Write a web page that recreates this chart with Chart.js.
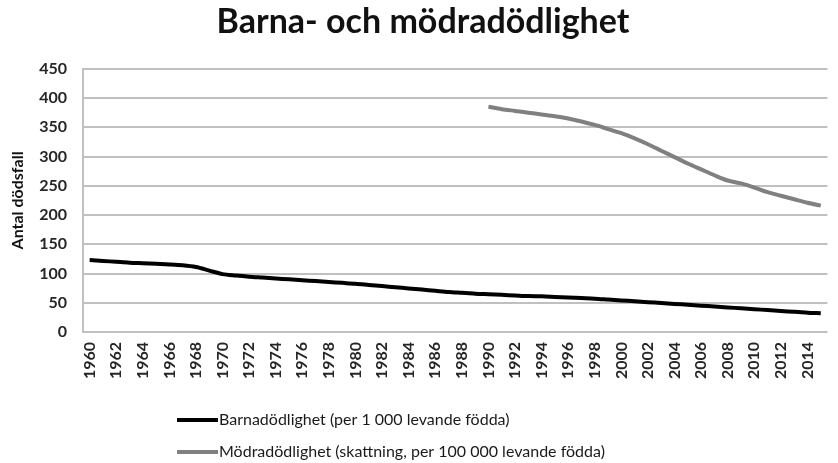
<!DOCTYPE html>
<html>
<head>
<meta charset="utf-8">
<script src="https://cdn.jsdelivr.net/npm/chart.js@4.4.1/dist/chart.umd.min.js"></script>
<style>
  html, body { margin: 0; padding: 0; background: #fff; overflow: hidden; }
  #wrap { position: relative; width: 838px; height: 463px; overflow: hidden; }
</style>
</head>
<body>
<div id="wrap"><canvas id="chart" width="850" height="463"></canvas></div>
<script>
const years = ["1960","1961","1962","1963","1964","1965","1966","1967","1968","1969",
  "1970","1971","1972","1973","1974","1975","1976","1977","1978","1979",
  "1980","1981","1982","1983","1984","1985","1986","1987","1988","1989",
  "1990","1991","1992","1993","1994","1995","1996","1997","1998","1999",
  "2000","2001","2002","2003","2004","2005","2006","2007","2008","2009",
  "2010","2011","2012","2013","2014","2015"];

// Barnadödlighet per 1 000 levande födda
const barn = [123, 121.5, 120, 118.5, 117.5, 116.5, 115.5, 114, 111, 105,
  99, 96.5, 94.5, 93, 91.5, 90, 88.5, 87, 85.5, 84,
  82.5, 80.5, 78.5, 76.5, 74.5, 72.5, 70.5, 68.5, 67, 65.5,
  64.5, 63.5, 62.5, 61.5, 61, 60, 59, 58, 57, 55.5,
  54, 52.5, 51, 49.5, 48, 46.5, 45, 43.5, 42, 40.5,
  39, 37.5, 36, 34.5, 33, 32];

// Mödradödlighet per 100 000 levande födda (skattning), finns från 1990
const modra = [null, null, null, null, null, null, null, null, null, null,
  null, null, null, null, null, null, null, null, null, null,
  null, null, null, null, null, null, null, null, null, null,
  385, 381, 378, 375, 372, 369, 365, 360, 354, 347,
  340, 331, 321, 310, 299, 288, 278, 268, 259, 254,
  247, 239, 233, 227, 221, 216];

const yTicks = [0, 50, 100, 150, 200, 250, 300, 350, 400, 450];

const seriesNames = ["Barnadödlighet (per 1 000 levande födda)",
  "Mödradödlighet (skattning, per 100 000 levande födda)"];
const seriesColors = ["#000000", "#808080"];

// legend under the axis, one row per series (like the Excel original)
const stackedLegend = {
  id: "stackedLegend",
  afterDraw(chart) {
    const c = chart.ctx;
    const rows = [420, 452];
    c.save();
    c.font = "16px Lato";
    c.textBaseline = "middle";
    c.textAlign = "left";
    chart.data.datasets.forEach((ds, i) => {
      const y = rows[i];
      c.strokeStyle = ds.borderColor;
      c.lineWidth = 4;
      c.beginPath();
      c.moveTo(177, y);
      c.lineTo(218, y);
      c.stroke();
      c.fillStyle = "#1a1a1a";
      c.fillText(ds.label, 219, y);
    });
    c.restore();
  }
};

const ctx = document.querySelector("#chart");

const chart = new Chart(ctx, {
  type: "line",
  data: {
    labels: years,
    datasets: [
      { label: seriesNames[0], data: barn, borderColor: seriesColors[0], borderWidth: 4, pointRadius: 0, tension: 0.3, fill: false },
      { label: seriesNames[1], data: modra, borderColor: seriesColors[1], borderWidth: 4, pointRadius: 0, tension: 0.3, fill: false }
    ]
  },
  options: {
    responsive: false,
    animation: false,
    layout: { padding: { left: 0, right: 4, top: 0, bottom: 0 } },
    plugins: {
      legend: { display: false },
      tooltip: { enabled: false },
      title: {
        display: true,
        text: "Barna- och mödradödlighet",
        color: "#111",
        font: { family: "Lato", size: 34, weight: "bold" },
        padding: { top: 2, bottom: 26 }
      }
    },
    scales: {
      x: {
        offset: true,
        grid: { display: false, drawTicks: false },
        border: { display: false },
        ticks: {
          autoSkip: false,
          maxRotation: 90,
          minRotation: 90,
          padding: 10,
          color: "#262626",
          font: { family: "Lato", size: 16, weight: "bold" },
          callback: function (v, i) { return i % 2 === 0 ? years[i] : ""; }
        },
        afterFit: function (s) { s.height = 131; }
      },
      y: {
        min: 0,
        max: 450,
        afterBuildTicks: function (s) { s.ticks = yTicks.map(v => ({ value: v })); },
        grid: { color: "#c0c0c0", lineWidth: 2, drawTicks: false },
        border: { color: "#c0c0c0", width: 2 },
        ticks: { padding: 16, color: "#262626", font: { family: "Lato", size: 16, weight: "bold" } },
        title: {
          display: true,
          text: "Antal dödsfall",
          color: "#111",
          font: { family: "Lato", size: 16, weight: "bold" },
          padding: { top: 8, bottom: 0 }
        },
        afterFit: function (s) { s.width = 83; }
      }
    }
  },
  plugins: [stackedLegend]
});
</script>
</body>
</html>
